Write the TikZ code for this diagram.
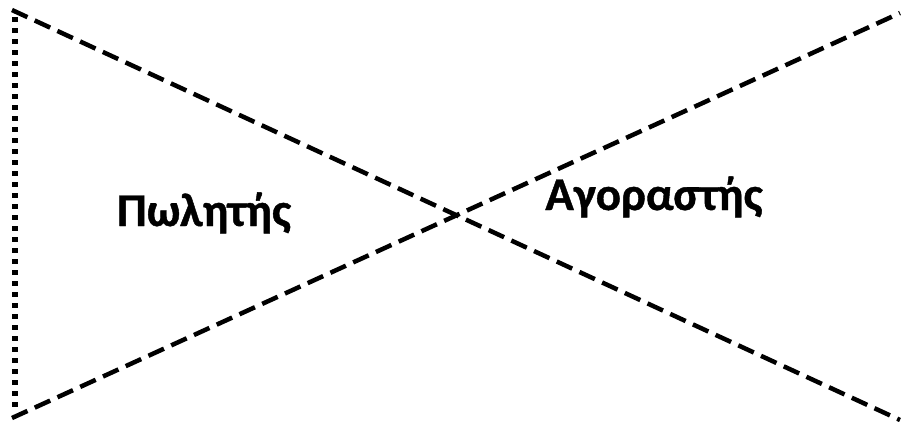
\documentclass[tikz,border=0pt]{standalone}
\usepackage{fontspec}
\setmainfont{Carlito}[BoldFont={Carlito Bold}]
\newfontfamily\lblfont{Carlito Bold}[FakeBold=0.9]
\begin{document}
\begin{tikzpicture}[x=1pt,y=-1pt,
  diag/.style={draw=black,line width=4.5pt,dash pattern=on 17pt off 8pt},
  vert/.style={draw=black,line width=5.5pt,dash pattern=on 5pt off 6pt},
  lbl/.style={font=\lblfont\fontsize{47}{50}\selectfont,anchor=base,inner sep=0pt}]
\useasboundingbox (0,0) rectangle (903,421);
\coordinate (tl) at (12,10);
\coordinate (br) at (900,420);
\coordinate (bl) at (12,418);
\coordinate (tr) at (900,13);
\coordinate (vt) at (15,17);
\coordinate (vb) at (15,410);
\draw[vert] (vt) -- (vb);
\draw[diag] (tl) -- (br);
\draw[diag] (bl) -- (tr);
\node[lbl] (seller) at (204,226) {Πωλητής};
\node[lbl] (buyer) at (654,210) {Αγοραστής};
\end{tikzpicture}
\end{document}
